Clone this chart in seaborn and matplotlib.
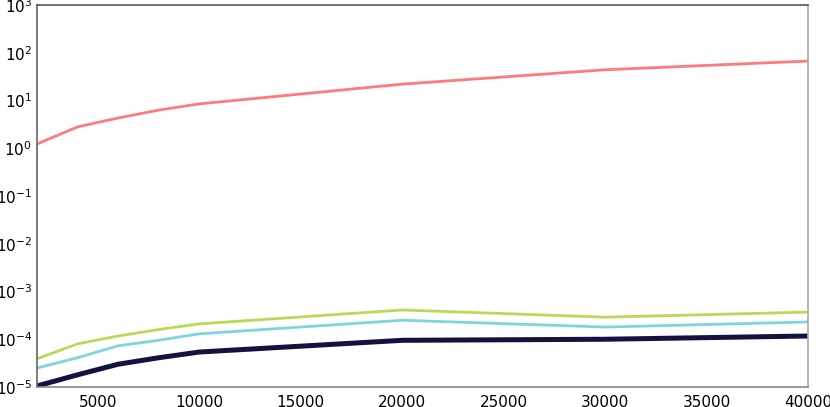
import matplotlib
matplotlib.use("Agg")
import matplotlib.pyplot as plt
import seaborn as sns
import pandas as pd
import numpy as np

sizes = [2000, 4000, 6000, 8000, 10000, 20000, 30000, 40000]
red_vals = [1.23, 2.8, 4.3, 6.3, 8.5, 22, 44, 67]
green_vals = [3.9e-5, 8.0e-5, 1.17e-4, 1.6e-4, 2.1e-4, 4.1e-4, 2.9e-4, 3.7e-4]
cyan_vals = [2.5e-5, 4.1e-5, 7.3e-5, 9.5e-5, 1.3e-4, 2.5e-4, 1.8e-4, 2.3e-4]
navy_vals = [1.05e-5, 1.8e-5, 3.0e-5, 4.1e-5, 5.4e-5, 9.5e-5, 1.0e-4, 1.17e-4]
series_names = ["red", "green", "cyan", "navy"]
colors = ["#ff7b7b", "#b8db55", "#7cd6dc", "#14123f"]
widths = [2.0, 2.0, 2.0, 3.6]

sns.set_style("white")
plt.rcParams['font.family'] = ['DejaVu Sans']

fig = plt.figure(figsize=(8.3, 4.07), dpi=100)
ax = fig.add_axes([37/830, 1 - 387/407, (808-37)/830, (387-5)/407])

data = pd.DataFrame({"x": sizes * 4,
                     "y": red_vals + green_vals + cyan_vals + navy_vals,
                     "s": sum([[n] * len(sizes) for n in series_names], [])})
for name, c, w in zip(series_names, colors, widths):
    sns.lineplot(data=data[data.s == name], x="x", y="y", color=c, linewidth=w, ax=ax)

ax.set_yscale("log")
ax.set_xlim(2000, 40000)
ax.set_ylim(1e-5, 1e3)
ax.set_xticks([5000, 10000, 15000, 20000, 25000, 30000, 35000, 40000])
ax.set_xlabel("")
ax.set_ylabel("")
ax.tick_params(axis="both", labelsize=11, colors="black")
ax.tick_params(axis="y", which="major", length=3, color="#999999", direction="in")
ax.tick_params(axis="y", which="minor", length=2, color="#bbbbbb", direction="in")
ax.tick_params(axis="x", which="both", length=0, pad=6)
ax.spines["top"].set_color("#555555")
ax.spines["left"].set_color("#666666")
ax.spines["right"].set_color("#aaaaaa")
ax.spines["bottom"].set_color("#888888")
for s in ax.spines.values():
    s.set_linewidth(1.2)

fig.savefig("out.png", dpi=100)
